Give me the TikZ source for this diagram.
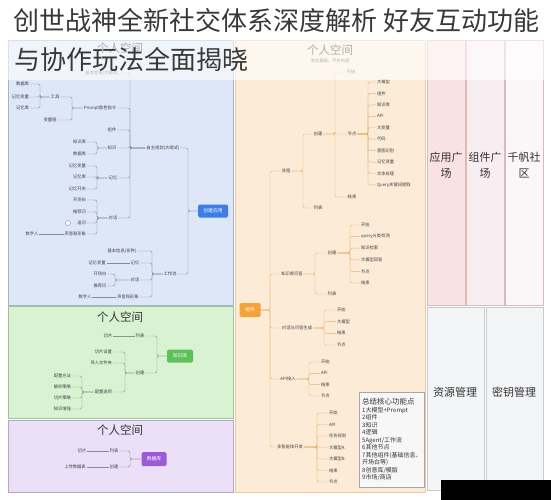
\documentclass[tikz,border=0pt]{standalone}
\usepackage{fontspec}
\newfontfamily\cjk{Noto Sans CJK SC}
\usepackage{tikz}
\usetikzlibrary{calc}

\definecolor{bluebg}{HTML}{DEE7F7}
\definecolor{blueborder}{HTML}{A7B3CB}
\definecolor{greenbg}{HTML}{D9F2D2}
\definecolor{greenborder}{HTML}{9CC59A}
\definecolor{purplebg}{HTML}{EBE0F8}
\definecolor{purpleborder}{HTML}{B4A6C9}
\definecolor{orangebg}{HTML}{FCEBD7}
\definecolor{orangeborder}{HTML}{EBCB9E}
\definecolor{pinkA}{HTML}{FAE1E2}
\definecolor{pinkB}{HTML}{F8EDF1}
\definecolor{pinkC}{HTML}{FBF6F7}
\definecolor{pinkborder}{HTML}{DDB9BC}
\definecolor{grayA}{HTML}{F4F5F7}
\definecolor{grayborder}{HTML}{C9CACF}
\definecolor{blueroot}{HTML}{3D7EE6}
\definecolor{greenroot}{HTML}{5FC05A}
\definecolor{purpleroot}{HTML}{9B5BD6}
\definecolor{orangeroot}{HTML}{F2A33A}
\definecolor{blueline}{HTML}{7F8CA3}
\definecolor{greenline}{HTML}{7FA07E}
\definecolor{purpleline}{HTML}{8E80A3}
\definecolor{orangeline}{HTML}{E6B36E}

\begin{document}
\begin{tikzpicture}[x=1pt, y=-1pt,
  every node/.style={font=\cjk},
  lbl/.style={font=\cjk\fontsize{4.3}{5}\selectfont, inner sep=0.8pt, text=black!75},
  ttl/.style={font=\cjk\fontsize{11.5}{13}\selectfont, text=black!80, inner sep=0pt},
  hub/.style={rounded corners=1.5pt, text=white, minimum height=13pt,
              font=\cjk\fontsize{4.8}{5}\selectfont},
  col/.style={font=\cjk\fontsize{11}{16}\selectfont, text=black!80, align=center},
  panel/.style={line width=0.6pt},
  sumbox/.style={draw=black!35, fill=black!3, anchor=north west, align=left,
                 inner sep=3pt, minimum width=61pt, minimum height=95pt,
                 font=\cjk\fontsize{6}{7.5}\selectfont, text=black!80},
  bln/.style={draw=blueline, line width=0.4pt, rounded corners=1.5pt},
  gln/.style={draw=greenline, line width=0.4pt, rounded corners=1.5pt},
  pln/.style={draw=purpleline, line width=0.4pt, rounded corners=1.5pt},
  oln/.style={draw=orangeline, line width=0.45pt, rounded corners=1.5pt}
]
\useasboundingbox (0,0) rectangle (551,500);
\clip (0,0) rectangle (551,500);

%% Panels
\draw[panel, draw=blueborder, fill=bluebg]     (8,40) rectangle (233,305);
\draw[panel, draw=greenborder, fill=greenbg]   (8,306.5) rectangle (233,418);
\draw[panel, draw=purpleborder, fill=purplebg] (8,420) rectangle (233,492);
\draw[panel, draw=orangeborder, fill=orangebg] (235,40) rectangle (425,492);
\draw[panel, draw=pinkborder, fill=pinkA] (427,40) rectangle (465,305);
\draw[panel, draw=pinkborder, fill=pinkB] (466,40) rectangle (504,305);
\draw[panel, draw=pinkborder, fill=pinkC] (505,40) rectangle (543,305);
\draw[panel, draw=grayborder, fill=grayA] (427,307) rectangle (484,490);
\draw[panel, draw=grayborder, fill=grayA] (486,307) rectangle (543,490);

%% Right columns
\node[col] (yygc) at (446,165) {应用广\\场};
\node[col] (zjgc) at (485,165) {组件广\\场};
\node[col] (qfsq) at (524,165) {千帆社\\区};
\node[col] (zygl) at (455,392) {资源管理};
\node[col] (mygl) at (514,392) {密钥管理};

%% Panel titles
\node[ttl] (bt)  at (120,48)  {个人空间};
\node[ttl] (gt)  at (120,317) {个人空间};
\node[ttl] (pt)  at (120,430) {个人空间};
\node[ttl] (ot)  at (330,50)  {个人空间};
\node[lbl] (ost) at (330,61)  {流式基础、平台内容};

%% Blue tree
\node[hub, fill=blueroot, minimum width=30pt] (bhub) at (213,211) {创建应用};
\coordinate (bHub) at (188,211);
\node[lbl] (zz)  at (163,148) {自主规划(大纲式)};
\node[lbl] (gzl) at (170,274) {工作流};
\foreach \c in {zz, gzl} \draw[bln] (\c.east) -| (bHub) -- (bhub.west);

\coordinate (bZz) at (130,148);
\node[lbl] (jb)  at (102,73)  {基本信息(大纲式)};
\node[lbl] (prm) at (100,108) {Prompt角色指令};
\node[lbl] (zj)  at (112,130) {组件};
\node[lbl] (zs)  at (112,148) {知识};
\node[lbl] (jy)  at (113,178) {记忆};
\node[lbl] (dh)  at (113,218) {对话};
\foreach \c in {jb, prm, zj, zs, jy, dh} \draw[bln] (\c.east) -| (bZz) -- (zz.west);

\coordinate (bPrm) at (72,108);
\node[lbl] (tool) at (55,97)  {工具};
\node[lbl] (var1) at (50,120) {变量值};
\foreach \c in {tool, var1} \draw[bln] (\c.east) -| (bPrm) -- (prm.west);

\coordinate (bTool) at (40,97);
\foreach \n/\t/\y in {db1/数据库/84, mv1/记忆变量/97, mk1/记忆库/108} {
  \node[lbl, anchor=east] (\n) at (30,\y) {\t};
  \draw[bln] (\n.east) -| (bTool) -- (tool.west);
}
\coordinate (bZs) at (97,148);
\foreach \n/\t/\y in {kb1/知识库/142, sj1/数据库/154} {
  \node[lbl, anchor=east] (\n) at (87,\y) {\t};
  \draw[bln] (\n.east) -| (bZs) -- (zs.west);
}
\coordinate (bJy) at (97,178);
\foreach \n/\t/\y in {mv2/记忆变量/166, mk2/记忆库/177, mo/记忆开关/189} {
  \node[lbl, anchor=east] (\n) at (87,\y) {\t};
  \draw[bln] (\n.east) -| (bJy) -- (jy.west);
}
\coordinate (bDh) at (97,218);
\foreach \n/\t/\y in {kc/开场白/200, tj/推荐问/212, zw/追问/223, sy/声音和形象/234} {
  \node[lbl, anchor=east] (\n) at (87,\y) {\t};
  \draw[bln] (\n.east) -| (bDh) -- (dh.west);
}
\node[circle, draw=blueline, fill=white, minimum size=5pt, inner sep=0pt] (tg) at (68,223) {};
\node[lbl] (sz) at (32,234) {数字人};
\draw[bln] (sz.east) -- (sy.west);

\coordinate (bGzl) at (152,274);
\node[lbl] (jb2) at (122,251) {基本信息(名称)};
\node[lbl] (jy2) at (135,263) {记忆};
\node[lbl] (dh2) at (135,280) {对话};
\node[lbl] (sy2) at (128,297) {声音和形象};
\foreach \c in {jb2, jy2, dh2, sy2} \draw[bln] (\c.east) -| (bGzl) -- (gzl.west);
\node[lbl] (mv3) at (97,263) {记忆变量};
\draw[bln] (mv3.east) -- (jy2.west);
\coordinate (bDh2) at (115,280);
\node[lbl] (kc2) at (100,274) {开场白};
\node[lbl] (tj2) at (100,286) {推荐问};
\foreach \c in {kc2, tj2} \draw[bln] (\c.east) -| (bDh2) -- (dh2.west);
\node[lbl] (sz2) at (85,297) {数字人};
\draw[bln] (sz2.east) -- (sy2.west);

%% Green tree
\node[hub, fill=greenroot, minimum width=26pt] (ghub) at (180,356) {知识库};
\coordinate (bGhub) at (157,356);
\node[lbl] (glb) at (140,336) {列表};
\node[lbl] (gcj) at (140,373) {创建};
\foreach \c in {glb, gcj} \draw[gln] (\c.east) -| (bGhub) -- (ghub.west);
\node[lbl] (qp) at (108,336) {切片};
\draw[gln] (qp.east) -- (glb.west);
\coordinate (bGcj) at (125,373);
\foreach \n/\t/\y in {qs/切片设置/352, dr/导入文件夹/363, pz/配置选项/392} {
  \node[lbl, anchor=east] (\n) at (113,\y) {\t};
  \draw[gln] (\n.east) -| (bGcj) -- (gcj.west);
}
\coordinate (bPz) at (82,392);
\foreach \n/\t/\y in {ff/配置方法/376, jx/解析策略/387, qc/切片策略/398, zq/知识增强/409} {
  \node[lbl, anchor=east] (\n) at (72,\y) {\t};
  \draw[gln] (\n.east) -| (bPz) -- (pz.west);
}

%% Purple tree
\node[hub, fill=purpleroot, minimum width=25pt, minimum height=14pt] (phub) at (154,459) {数据库};
\coordinate (bPhub) at (130,459);
\node[lbl] (plb) at (114,451) {列表};
\node[lbl] (pcj) at (114,467) {创建};
\foreach \c in {plb, pcj} \draw[pln] (\c.east) -| (bPhub) -- (phub.west);
\node[lbl] (pq) at (82,451) {切片};
\node[lbl] (sc) at (75,467) {上传数据表};
\draw[pln] (pq.east) -- (plb.west);
\draw[pln] (sc.east) -- (pcj.west);

%% Orange tree
\node[hub, fill=orangeroot, minimum width=21pt, minimum height=14pt] (ohub) at (250,310) {组件};
\coordinate (bOhub) at (270,310);
\node[lbl] (lc)  at (286,171) {流程};
\node[lbl] (wd)  at (292,274) {知识库问答};
\node[lbl] (dg)  at (297,328) {对话与问答生成};
\node[lbl] (api) at (288,379) {API接入};
\node[lbl] (mul) at (290,447) {多智能体开发};
\foreach \c in {lc, wd, dg, api, mul} \draw[oln] (ohub.east) -- (bOhub) |- (\c.west);

\coordinate (bLc) at (303,171);
\node[lbl] (ocj) at (318,134) {创建};
\node[lbl] (olb) at (318,208) {列表};
\foreach \c in {ocj, olb} \draw[oln] (lc.east) -- (bLc) |- (\c.west);
\coordinate (bOcj) at (335,134);
\node[lbl] (ks) at (351,72)  {开始};
\node[lbl] (jd) at (352,134) {节点};
\node[lbl] (js) at (352,197) {结束};
\foreach \c in {ks, jd, js} \draw[oln] (ocj.east) -- (bOcj) |- (\c.west);
\coordinate (bJd) at (368,134);
\foreach \t [count=\i] in {大模型, 组件, 知识库, API, 大变量, 代码, 意图识别, 记忆变量, 文本处理, Query关键词提取} {
  \node[lbl, anchor=west] (jd\i) at (376,{82+11.44*(\i-1)}) {\t};
  \draw[oln] (jd.east) -- (bJd) |- (jd\i.west);
}

\coordinate (bWd) at (315,274);
\node[lbl] (cj1) at (332,253) {创建};
\node[lbl] (lb1) at (332,294) {列表};
\foreach \c in {cj1, lb1} \draw[oln] (wd.east) -- (bWd) |- (\c.west);
\coordinate (bCj1) at (350,253);
\foreach \t [count=\i] in {开始, query分类检测, 知识检索, 大模型回答, 节点, 结束} {
  \node[lbl, anchor=west] (cjn\i) at (360,{225+11.6*(\i-1)}) {\t};
  \draw[oln] (cj1.east) -- (bCj1) |- (cjn\i.west);
}

\coordinate (bDg) at (324,328);
\foreach \t [count=\i] in {开始, 大模型, 结束, 节点} {
  \node[lbl, anchor=west] (dgn\i) at (336,{310+11.67*(\i-1)}) {\t};
  \draw[oln] (dg.east) -- (bDg) |- (dgn\i.west);
}

\coordinate (bApi) at (309,379);
\foreach \t [count=\i] in {开始, API, 结束, 节点} {
  \node[lbl, anchor=west] (apn\i) at (320,{362+11.33*(\i-1)}) {\t};
  \draw[oln] (api.east) -- (bApi) |- (apn\i.west);
}

\coordinate (bMul) at (317,447);
\foreach \t [count=\i] in {开始, API, 任务规划, 大模型A, 大模型B, 结束, 节点} {
  \node[lbl, anchor=west] (mun\i) at (328,{413+11.5*(\i-1)}) {\t};
  \draw[oln] (mul.east) -- (bMul) |- (mun\i.west);
}

%% Summary box
\node[sumbox] (sum) at (359,392) {{\fontsize{7.5}{9}\selectfont 总结核心功能点}\\1大模型+Prompt\\2组件\\3知识\\4逻辑\\5Agent/工作流\\6其他节点\\7其他组件(基础信息、\\开场白等)\\8创意库/模版\\9市场/商店};

%% Cropped corner
\fill[black] (441,480) rectangle (551,500);

%% Title over a light band
\fill[white, opacity=0.6] (0,40) rectangle (551,80);
\node[anchor=base west, inner sep=0pt, font=\cjk\fontsize{26}{30}\selectfont, text=black!78] (tl1) at (13,31) {创世战神全新社交体系深度解析 好友互动功能};
\node[anchor=base west, inner sep=0pt, font=\cjk\fontsize{26}{30}\selectfont, text=black!78] (tl2) at (14,70) {与协作玩法全面揭晓};
\end{tikzpicture}
\end{document}
